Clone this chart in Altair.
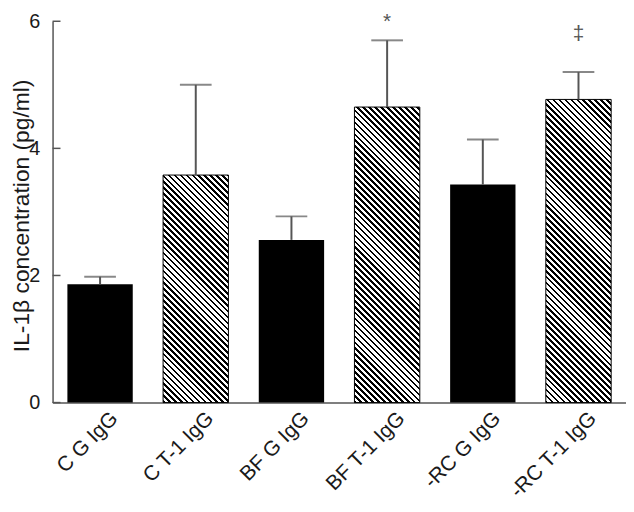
import altair as alt
import pandas as pd
import math

# ---- data ----
categories = ["C G IgG", "C T-1 IgG", "BF G IgG", "BF T-1 IgG", "-RC G IgG", "-RC T-1 IgG"]
means = [1.86, 3.58, 2.56, 4.65, 3.43, 4.77]
upper = [1.98, 5.00, 2.93, 5.70, 4.14, 5.20]
hatched = [False, True, False, True, False, True]
marker_text = ["", "", "", "*", "", "\u2021"]
marker_y = [None, None, None, 5.98, None, 5.80]
y_ticks = [0, 2, 4, 6]

# ---- layout / style ----
W, H = 579, 385
P_IN, P_OUT = 0.317, 0.155
Y_MAX = 6
FONT = "Liberation Sans"
GRAY = "#555555"
TXT = "#1a1a1a"

step = W / (len(categories) - P_IN + 2 * P_OUT)
band = step * (1 - P_IN)

df = pd.DataFrame({"cat": categories, "mean": means, "upper": upper, "hatched": hatched})

xenc = alt.X("cat:N", sort=categories,
             scale=alt.Scale(paddingInner=P_IN, paddingOuter=P_OUT),
             axis=alt.Axis(title=None, labelAngle=-45, labelFontSize=21, labelFont=FONT,
                           labelColor=TXT, ticks=False, labelPadding=5, labelOffset=7,
                           domainColor=GRAY, domainWidth=1.5, labelAlign="right",
                           labelBaseline="top"))
yscale = alt.Scale(domain=[0, Y_MAX], nice=False)
yenc = alt.Y("mean:Q", scale=yscale,
             axis=alt.Axis(title="IL-1\u03b2 concentration (pg/ml)", values=y_ticks,
                           format="d",
                           ticks=False, labelPadding=13, labelFontSize=20, labelFont=FONT,
                           labelColor=TXT, domainColor=GRAY, domainWidth=1.5,
                           grid=False, titleFont=FONT, titleFontSize=23,
                           titleFontWeight="normal", titleColor=TXT,
                           titleX=-31, titleY=196, titleAngle=-90,
                           titleAlign="center", titleBaseline="middle"))


def hatch_gradient(h_px, w_px, period=6.0, black_frac=0.45):
    span = w_px + h_px
    k = span / (w_px ** 2 + h_px ** 2)
    stops = []
    n = int(math.ceil(span / period))
    for i in range(n):
        t0 = i * period / span
        t1 = min(1.0, (i * period + black_frac * period) / span)
        t2 = min(1.0, (i + 1) * period / span)
        if t0 >= 1:
            break
        stops += [{"offset": t0, "color": "#000000"}, {"offset": t1, "color": "#000000"},
                  {"offset": t1, "color": "#ffffff"}, {"offset": t2, "color": "#ffffff"}]
    return {"gradient": "linear", "x1": 0, "y1": 1, "x2": k * w_px, "y2": 1 - k * h_px,
            "stops": stops}


base = alt.Chart(df)

layers = []
solid = base.transform_filter("!datum.hatched").mark_bar(color="black").encode(x=xenc, y=yenc)
layers.append(solid)

for c, m, hflag in zip(categories, means, hatched):
    if not hflag:
        continue
    h_px = m / Y_MAX * H
    grad = hatch_gradient(h_px, band)
    layer = base.transform_filter(alt.datum.cat == c).mark_bar(
        fill=grad, stroke="black", strokeWidth=1).encode(x=xenc, y=yenc)
    layers.append(layer)

err = base.mark_rule(color=GRAY, strokeWidth=2).encode(
    x=alt.X("cat:N", sort=categories), y="mean:Q", y2="upper:Q")
caps = base.mark_tick(color=GRAY, orient="horizontal", size=32, thickness=2).encode(
    x=alt.X("cat:N", sort=categories), y="upper:Q")
layers += [err, caps]

mdf = pd.DataFrame({"cat": categories, "txt": marker_text, "ym": marker_y}).dropna()
marks = alt.Chart(mdf).mark_text(fontSize=21, font=FONT, color=GRAY, baseline="middle",
                                 clip=False).encode(
    x=alt.X("cat:N", sort=categories), y="ym:Q", text="txt:N")
layers.append(marks)

tdf = pd.DataFrame({"t": y_ticks})
ticks = alt.Chart(tdf).mark_rule(color=GRAY, strokeWidth=1.5).encode(
    y="t:Q", x=alt.value(0), x2=alt.value(8))
layers.append(ticks)

chart = alt.layer(*layers).properties(
    width=W, height=H,
    autosize=alt.AutoSizeParams(type="none"),
    padding={"left": 45, "top": 11, "right": 0, "bottom": 98},
).configure_view(stroke=None)

chart.save("out.html", embed_options={"renderer": "svg", "actions": False})
